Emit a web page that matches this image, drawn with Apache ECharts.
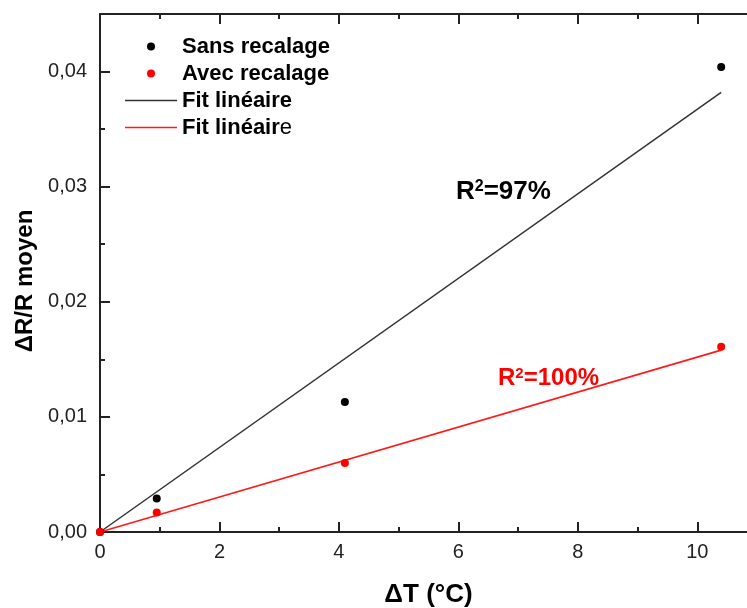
<!DOCTYPE html>
<html><head><meta charset="utf-8">
<script src="https://cdn.jsdelivr.net/npm/echarts@6/dist/echarts.min.js"></script>
<style>html,body{margin:0;padding:0;background:#fff}#c{width:747px;height:608px}</style>
</head><body><div id="c"></div>
<script>
// ---- data ----
const deltaT = [0, 0.95, 4.1, 10.4];
const sansRecalage = [0, 0.0029, 0.0113, 0.0404];
const avecRecalage = [0, 0.0017, 0.0060, 0.0161];
const fitX = [0, 10.4];
const fitSans = [0, 0.0382];
const fitAvec = [0, 0.0158];
const seriesNames = ['Sans recalage', 'Avec recalage', 'Fit linéaire (sans)', 'Fit linéaire (avec)'];
const legendLabels = ['Sans recalage', 'Avec recalage', 'Fit linéaire', 'Fit linéaire'];
const r2Parts = [['R', '2', '=97%'], ['R', '2', '=100%']];
const xTitle = 'ΔT (°C)';
const yTitle = 'ΔR/R moyen';

const FONT = '"Liberation Sans", Arial, sans-serif';
const AX = '#222';

function frame(extra, major, len) {
  return Object.assign({
    type: 'value',
    splitLine: { show: false },
    axisLine: { show: major, onZero: false, lineStyle: { color: AX, width: 2 } },
    axisTick: { show: true, inside: true, length: len, lineStyle: { color: AX, width: 2 } },
    axisLabel: { show: false }
  }, extra);
}
const xLab = {
  show: true, fontSize: 20, color: AX, fontFamily: FONT, margin: 10,
  showMaxLabel: false, formatter: v => String(v)
};
const yLab = {
  show: true, fontSize: 20, color: AX, fontFamily: FONT, margin: 13,
  showMaxLabel: false, formatter: v => v.toFixed(2).replace('.', ',')
};
const xr = { min: 0, max: 11 };
const yr = { min: 0, max: 0.045 };

function r2Text(p, size, color) {
  return {
    text: '{a|' + p[0] + '}{s|' + p[1] + '}{a|' + p[2] + '}',
    rich: {
      a: { fontSize: size, fontWeight: 'bold', fill: color, fontFamily: FONT, lineHeight: size },
      s: { fontSize: Math.round(size * 0.62), fontWeight: 'bold', fill: color, fontFamily: FONT,
           verticalAlign: 'top', lineHeight: Math.round(size * 0.62) }
    },
    verticalAlign: 'middle'
  };
}

const chart = echarts.init(document.getElementById('c'));
chart.setOption({
  backgroundColor: '#fff',
  animation: false,
  grid: { left: 100, top: 14, width: 657, height: 518, containLabel: false, outerBoundsMode: 'none' },
  xAxis: [
    frame(Object.assign({ position: 'bottom', interval: 2, axisLabel: xLab,
      name: xTitle, nameLocation: 'middle', nameGap: 50,
      nameTextStyle: { fontSize: 26, fontWeight: 'bold', color: '#000', fontFamily: FONT } }, xr), true, 10),
    frame(Object.assign({ position: 'bottom', interval: 1 }, xr), false, 5),
    frame(Object.assign({ position: 'top', interval: 2 }, xr), true, 10),
    frame(Object.assign({ position: 'top', interval: 1 }, xr), false, 5)
  ],
  yAxis: [
    frame(Object.assign({ position: 'left', interval: 0.01, axisLabel: yLab,
      name: yTitle, nameLocation: 'middle', nameGap: 60,
      nameTextStyle: { fontSize: 24, fontWeight: 'bold', color: '#000', fontFamily: FONT, padding: [0, 16, 0, 0] } }, yr), true, 10),
    frame(Object.assign({ position: 'left', interval: 0.005 }, yr), false, 5),
    frame(Object.assign({ position: 'right', interval: 0.01 }, yr), true, 10),
    frame(Object.assign({ position: 'right', interval: 0.005 }, yr), false, 5)
  ],
  legend: {
    orient: 'vertical', left: 125, top: 33, itemGap: 0, itemWidth: 52, itemHeight: 8, padding: 0,
    data: [
      { name: seriesNames[0], icon: 'circle' },
      { name: seriesNames[1], icon: 'circle' },
      { name: seriesNames[2], icon: 'path://M0,0H51V1.5H0Z' },
      { name: seriesNames[3], icon: 'path://M0,0H51V1.5H0Z' }
    ],
    formatter: name => {
      const i = seriesNames.indexOf(name);
      const t = legendLabels[i];
      return i === 3 ? '{b|' + t.slice(0, -1) + '}{n|' + t.slice(-1) + '}' : '{b|' + t + '}';
    },
    textStyle: {
      fontFamily: FONT, fontSize: 22, lineHeight: 27,
      rich: {
        b: { fontSize: 22, fontWeight: 'bold', color: '#000', fontFamily: FONT, lineHeight: 27 },
        n: { fontSize: 22, fontWeight: 'normal', color: '#000', fontFamily: FONT, lineHeight: 27 }
      }
    }
  },
  series: [
    { name: seriesNames[2], type: 'line', xAxisIndex: 0, yAxisIndex: 0, symbol: 'none', z: 2,
      color: '#333', lineStyle: { color: '#333', width: 1.5 },
      data: fitX.map((x, i) => [x, fitSans[i]]) },
    { name: seriesNames[3], type: 'line', xAxisIndex: 0, yAxisIndex: 0, symbol: 'none', z: 2,
      color: '#ff1a1a', lineStyle: { color: '#ff1a1a', width: 1.6 },
      data: fitX.map((x, i) => [x, fitAvec[i]]) },
    { name: seriesNames[0], type: 'scatter', xAxisIndex: 0, yAxisIndex: 0, symbolSize: 8, z: 5,
      itemStyle: { color: '#000', opacity: 1 },
      data: deltaT.map((x, i) => [x, sansRecalage[i]]) },
    { name: seriesNames[1], type: 'scatter', xAxisIndex: 0, yAxisIndex: 0, symbolSize: 8, z: 6,
      itemStyle: { color: '#ff0000', opacity: 1 },
      data: deltaT.map((x, i) => [x, avecRecalage[i]]) }
  ],
  graphic: [
    { type: 'text', x: 456, y: 192, z: 10, style: r2Text(r2Parts[0], 26, '#000') },
    { type: 'text', x: 498, y: 378, z: 10, style: r2Text(r2Parts[1], 24, '#ff0000') }
  ]
});
</script>
</body></html>
